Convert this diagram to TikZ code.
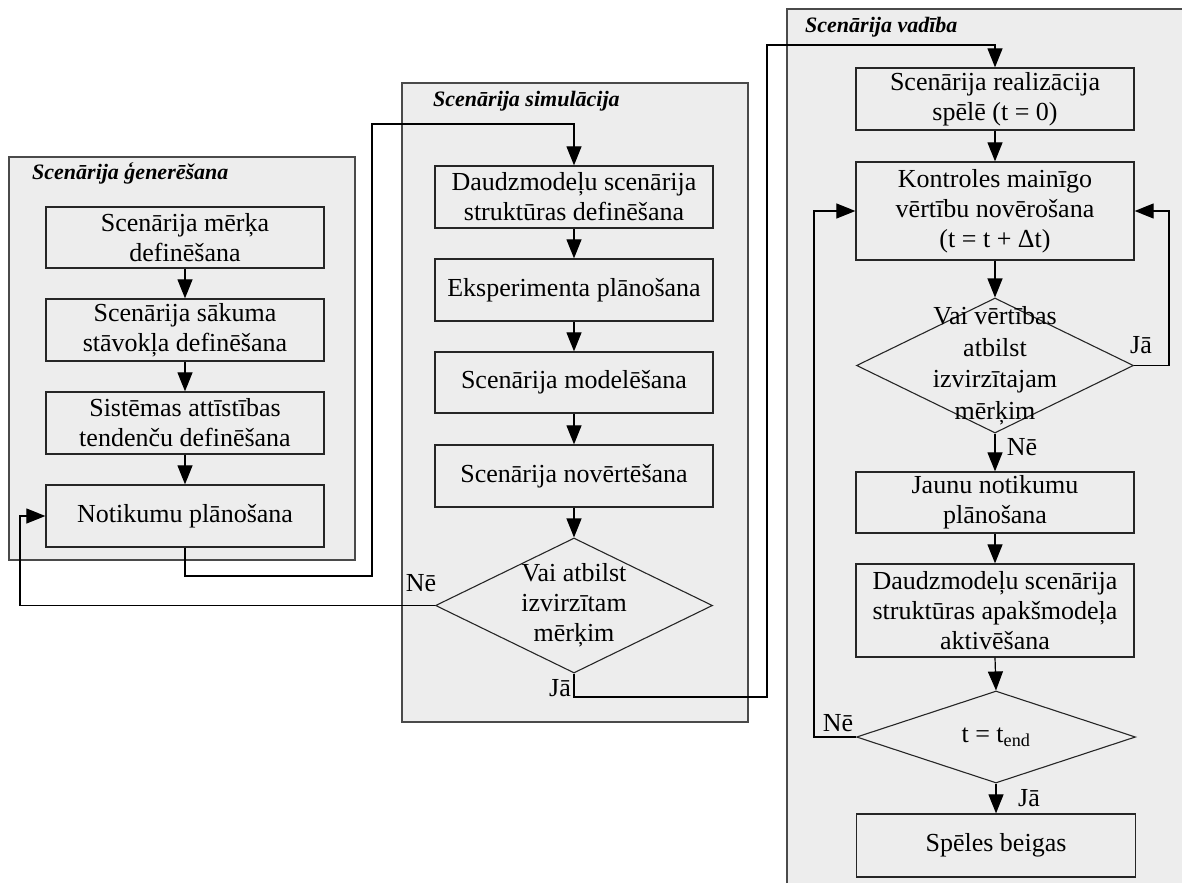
\documentclass[tikz,border=0pt]{standalone}
\usepackage{fontspec}
\setmainfont{Liberation Serif}
\usetikzlibrary{arrows.meta,shapes.geometric}
\definecolor{panelfill}{HTML}{EDEDED}
\definecolor{panelline}{HTML}{4A4A4A}
\definecolor{boxline}{HTML}{262626}

\begin{document}
\begin{tikzpicture}[x=1pt,y=-1pt,
  panel/.style={fill=panelfill,draw=panelline,line width=1.6pt},
  ptitle/.style={anchor=west,inner sep=0pt,font=\fontsize{22}{26}\selectfont\bfseries\itshape},
  stepbox/.style={draw=boxline,line width=1.3pt,minimum width=278pt,inner sep=0pt,
    align=center,font=\fontsize{26}{30}\selectfont},
  decision/.style={draw=boxline,line width=1.1pt,diamond,inner sep=0pt,
    minimum width=277pt},
  dtext/.style={align=center,inner sep=0pt,font=\fontsize{26}{30}\selectfont},
  lbl/.style={inner sep=0pt,font=\fontsize{26}{30}\selectfont},
  link/.style={line width=1.2pt},
  flow/.style={line width=1.2pt,-{Triangle[length=19pt,width=15pt]}}
]
\useasboundingbox (0,0) rectangle (1182,883);
\fill[white] (0,0) rectangle (1182,883);

% ---- three panels ----
\draw[panel] (9,157) rectangle (355,560);
\draw[panel] (402,83) rectangle (748,722);
\fill[panelfill] (787,9) rectangle (1182,883);
\draw[panelline,line width=1.6pt] (787,883) -- (787,9) -- (1182,9);

\node[ptitle] (tgen) at (32,173) {Scenārija ģenerēšana};
\node[ptitle] (tsim) at (433,101) {Scenārija simulācija};
\node[ptitle] (tvad) at (805,27) {Scenārija vadība};

% ---- generation ----
\node[stepbox,minimum height=61pt] (L1) at (185,237.5) {Scenārija mērķa\\definēšana};
\node[stepbox,minimum height=62pt] (L2) at (185,330) {Scenārija sākuma\\stāvokļa definēšana};
\node[stepbox,minimum height=62pt] (L3) at (185,423) {Sistēmas attīstības\\tendenču definēšana};
\node[stepbox,minimum height=62pt] (L4) at (185,516) {Notikumu plānošana};

% ---- simulation ----
\node[stepbox,minimum height=62pt] (M1) at (574,197) {Daudzmodeļu scenārija\\struktūras definēšana};
\node[stepbox,minimum height=62pt] (M2) at (574,290) {Eksperimenta plānošana};
\node[stepbox,minimum height=61pt] (M3) at (574,382.5) {Scenārija modelēšana};
\node[stepbox,minimum height=62pt] (M4) at (574,476) {Scenārija novērtēšana};
\node[decision,minimum height=135pt] (MD) at (574,605.5) {};
\node[dtext] (MDt) at (MD.center) {Vai atbilst\\izvirzītam\\mērķim};

% ---- control ----
\node[stepbox,minimum height=62pt] (R1) at (995,99) {Scenārija realizācija\\spēlē (t = 0)};
\node[stepbox,minimum height=98pt] (R2) at (995,211) {Kontroles mainīgo\\vērtību novērošana\\(t = t + Δt)};
\node[decision,minimum height=135pt] (RD1) at (995,365.5) {};
\node[dtext,font=\fontsize{26}{31.5}\selectfont] (RD1t) at (RD1.center) {Vai vērtības\\atbilst\\izvirzītajam\\mērķim};
\node[stepbox,minimum height=61pt] (R3) at (995,502.5) {Jaunu notikumu\\plānošana};
\node[stepbox,minimum height=93pt] (R4) at (995,610.5) {Daudzmodeļu scenārija\\struktūras apakšmodeļa\\aktivēšana};
\node[decision,minimum height=92pt,minimum width=279pt] (RD2) at (996,737) {};
\node[dtext] (RD2t) at (RD2.center) {t = t\textsubscript{end}};
\node[stepbox,minimum height=63pt,minimum width=279pt] (R5) at (996,845.5) {Spēles beigas};

% ---- branch labels ----
\node[lbl] (mno) at (421,583) {Nē};
\node[lbl] (mjes) at (560,688) {Jā};
\node[lbl] (r1jes) at (1141,345) {Jā};
\node[lbl] (r1no) at (1022,447) {Nē};
\node[lbl] (r2no) at (838,723) {Nē};
\node[lbl] (r2jes) at (1029,798) {Jā};

% ---- bend points ----
\coordinate (c1) at (372,576);
\coordinate (c2) at (372,124);
\coordinate (c3) at (20,605.5);
\coordinate (c4) at (767,697);
\coordinate (c5) at (767,45);
\coordinate (c6) at (1169,365.5);
\coordinate (c7) at (814,737);

% ---- connectors ----
\draw[flow] (L1.south) -- (L2.north);
\draw[flow] (L2.south) -- (L3.north);
\draw[flow] (L3.south) -- (L4.north);
\draw[flow] (L4.south) |- (c1) -- (c2) -| (M1.north);

\draw[flow] (M1.south) -- (M2.north);
\draw[flow] (M2.south) -- (M3.north);
\draw[flow] (M3.south) -- (M4.north);
\draw[flow] (M4.south) -- (MD.north);
\draw[flow] (MD.west) -- (c3) |- (L4.west);
\draw[flow] (MD.south) |- (c4) -- (c5) -| (R1.north);

\draw[flow] (R1.south) -- (R2.north);
\draw[flow] (R2.south) -- (RD1.north);
\draw[flow] (RD1.east) -- (c6) |- (R2.east);
\draw[flow] (RD1.south) -- (R3.north);
\draw[flow] (R3.south) -- (R4.north);
\draw[flow] (R4.south) -- (RD2.north);
\draw[flow] (RD2.west) -- (c7) |- (R2.west);
\draw[flow] (RD2.south) -- (R5.north);
\end{tikzpicture}
\end{document}
